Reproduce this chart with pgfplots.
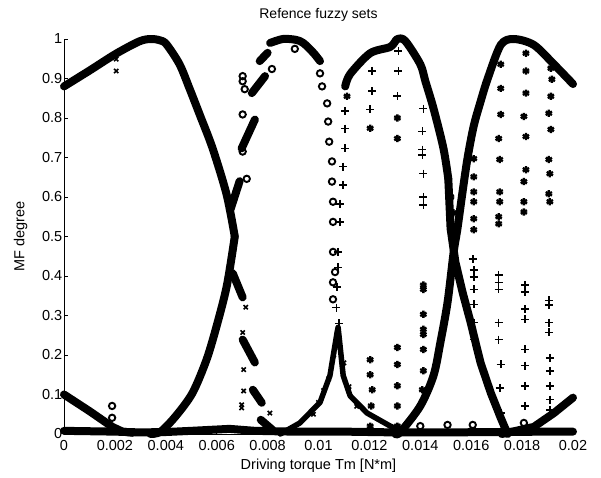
\documentclass[border=0pt]{standalone}
\usepackage{fontspec}
\setmainfont{Liberation Sans}
\usepackage{pgfplots}
\pgfplotsset{compat=1.18}
\begin{document}
\begin{tikzpicture}
\pgfplotsset{
  band/.style={black, no marks, line width=8bp, line cap=round, line join=round},
  omark/.style={black, only marks, mark=o, mark size=3.2bp, line width=1.9bp},
  pmark/.style={black, only marks, mark=+, mark size=4bp, line width=1.6bp},
  smark/.style={black, only marks, mark=asterisk, mark size=3.6bp, line width=2.3bp},
  xmark/.style={black, only marks, mark=x, mark size=3bp, line width=1.6bp},
}
\begin{axis}[
  scale only axis, width=509bp, height=395bp,
  xmin=0, xmax=0.02, ymin=0, ymax=1,
  axis x line*=bottom, axis y line*=left,
  axis line style={line width=0.9bp},
  tick align=inside, major tick length=4bp,
  tick style={line width=0.9bp, black},
  xtick={0,0.002,0.004,0.006,0.008,0.01,0.012,0.014,0.016,0.018,0.02},
  xticklabels={0,0.002,0.004,0.006,0.008,0.01,0.012,0.014,0.016,0.018,0.02},
  scaled x ticks=false,
  ytick={0,0.1,0.2,0.3,0.4,0.5,0.6,0.7,0.8,0.9,1},
  yticklabels={0,0.1,0.2,0.3,0.4,0.5,0.6,0.7,0.8,0.9,1},
  tick label style={font=\fontsize{14.5bp}{17bp}\selectfont},
  yticklabel style={inner sep=1.5bp},
  xticklabel style={yshift=-3bp},
  label style={font=\fontsize{14.5bp}{17bp}\selectfont},
  clip=false,
  title={Refence fuzzy sets},
  title style={font=\fontsize{14bp}{17bp}\selectfont, at={(axis description cs:0.5,1.046)}, anchor=center},
  xlabel={Driving torque Tm [N*m]},
  xlabel style={at={(axis description cs:0.5,-0.08)}, anchor=center},
  ylabel={MF degree},
  ylabel style={at={(axis description cs:-0.085,0.5)}, anchor=center},
]
% baseline
\addplot[band] coordinates {(0,0.008) (0.002,0.006) (0.003,0.004) (0.004,0.005) (0.005,0.008) (0.0065,0.013) (0.0075,0.008) (0.009,0.006) (0.011,0.006) (0.013,0.004) (0.015,0.004) (0.017,0.005) (0.019,0.006) (0.0200,0.006)};
% E
\addplot[band] coordinates {(0,0.1) (0.001,0.058) (0.0019,0.018) (0.0023,0.006) (0.0027,0.003)};
% A
\addplot[band, smooth] coordinates {(0,0.88) (0.001,0.92) (0.00205,0.963) (0.00296,0.994) (0.0034,1.0) (0.00375,0.997) (0.00402,0.987) (0.00454,0.936) (0.00493,0.875) (0.00533,0.809) (0.00584,0.723) (0.00639,0.606) (0.00671,0.5)};
\addplot[band] coordinates {(0.00663,0.407) (0.00702,0.346)};
\addplot[band] coordinates {(0.00702,0.239) (0.0075,0.181)};
\addplot[band] coordinates {(0.00742,0.112) (0.00777,0.079)};
\addplot[band] coordinates {(0.00773,0.036) (0.0082,0.01)};
% B
\addplot[band, smooth] coordinates {(0.0034,0.0) (0.0038,0.006) (0.0044,0.046) (0.00505,0.104) (0.0056,0.188) (0.006,0.274) (0.0064,0.376) (0.00671,0.5)};
\addplot[band] coordinates {(0.00655,0.57) (0.0069,0.64)};
\addplot[band] coordinates {(0.00698,0.723) (0.0075,0.796)};
\addplot[band] coordinates {(0.00738,0.863) (0.0079,0.906)};
\addplot[band] coordinates {(0.00769,0.944) (0.0080,0.965)};
\addplot[band, smooth] coordinates {(0.0081,0.99) (0.0086,1.0) (0.0091,0.998) (0.0094,0.99) (0.0098,0.965) (0.01006,0.944)};
% C
\addplot[band, smooth] coordinates {(0.01105,0.88) (0.01124,0.911) (0.01203,0.964) (0.01282,0.98) (0.0131,1.0) (0.01341,0.995) (0.014,0.936) (0.0142,0.893) (0.01452,0.824) (0.01491,0.723) (0.0151,0.646)};
\addplot[band] coordinates {(0.0151,0.646) (0.01519,0.52) (0.01538,0.435) (0.01566,0.359) (0.01598,0.282) (0.01617,0.232) (0.01637,0.18) (0.01677,0.104) (0.01716,0.041) (0.01743,0.0)};
% D
\addplot[band, smooth] coordinates {(0.01302,0.0) (0.01322,0.005) (0.014,0.071) (0.01452,0.148) (0.01479,0.232) (0.01507,0.333) (0.01531,0.46) (0.01546,0.52) (0.01566,0.613) (0.01586,0.7) (0.0161,0.78) (0.01637,0.842) (0.01665,0.9) (0.01716,0.985) (0.01767,1.0) (0.01846,0.985) (0.01925,0.936) (0.02,0.886)};
% G
\addplot[band] coordinates {(0.0172,0.0) (0.01846,0.018) (0.01925,0.053) (0.02,0.092)};
% H
\addplot[black, no marks, line width=5.5bp, line cap=round, line join=round] coordinates {(0.0085,0.0) (0.00927,0.028) (0.01006,0.08) (0.01045,0.148) (0.01073,0.257) (0.01077,0.27) (0.01097,0.148) (0.01124,0.097) (0.01191,0.053) (0.01282,0.02) (0.01322,0.008)};
% x marks
\addplot[xmark] coordinates {(0.00205,0.949) (0.00205,0.919) (0.00714,0.321) (0.00702,0.257) (0.00706,0.163) (0.00706,0.109) (0.00698,0.074) (0.00698,0.066) (0.00809,0.053) (0.009,0.012) (0.0098,0.05) (0.0100,0.08) (0.0102,0.11) (0.0104,0.14) (0.0106,0.2) (0.0110,0.18) (0.0112,0.12) (0.0115,0.07)};
% o marks
\addplot[omark] coordinates {(0.00189,0.071) (0.00189,0.041) (0.00702,0.906) (0.00702,0.893) (0.0071,0.873) (0.00702,0.809) (0.00702,0.715) (0.00718,0.646) (0.00817,0.924) (0.00907,0.975) (0.01006,0.913) (0.01014,0.880) (0.01034,0.837) (0.01038,0.791) (0.01042,0.740) (0.01053,0.690) (0.01053,0.639) (0.01057,0.588) (0.01057,0.537) (0.01057,0.461) (0.01065,0.410) (0.01057,0.384) (0.01057,0.341) (0.014,0.02) (0.01507,0.023) (0.01606,0.023) (0.01807,0.028)};
% + marks
\addplot[pmark] coordinates {(0.01105,0.817) (0.01105,0.773) (0.01105,0.723) (0.01097,0.677) (0.01097,0.631) (0.01085,0.583) (0.01085,0.537) (0.01077,0.461) (0.01077,0.422) (0.01073,0.372) (0.0107,0.32) (0.0108,0.28)
(0.01211,0.919) (0.01211,0.868) (0.01203,0.822)
(0.01314,0.97) (0.01314,0.919) (0.0131,0.855)
(0.01412,0.824) (0.01408,0.766) (0.01408,0.72) (0.01408,0.707) (0.01412,0.659) (0.01412,0.60) (0.01412,0.58)
(0.01606,0.443) (0.0161,0.415) (0.0161,0.397) (0.0161,0.366) (0.0161,0.328) (0.0161,0.282) (0.0161,0.239)
(0.01708,0.402) (0.01708,0.384) (0.01708,0.366) (0.01708,0.282) (0.01708,0.239) (0.01716,0.176) (0.01712,0.117) (0.01716,0.053)
(0.01811,0.377) (0.01811,0.359) (0.01811,0.316) (0.01811,0.29) (0.01811,0.214) (0.01811,0.173) (0.01811,0.122) (0.01811,0.071)
(0.01905,0.338) (0.01905,0.326) (0.01905,0.282) (0.01905,0.257) (0.01909,0.193) (0.01909,0.16) (0.01909,0.122) (0.01909,0.087) (0.01909,0.061)};
% star marks
\addplot[smark] coordinates {(0.01203,0.774) (0.0131,0.8) (0.0131,0.748) (0.01105,0.88) (0.01112,0.855)
(0.01203,0.188) (0.01203,0.15) (0.01211,0.112) (0.01207,0.071) (0.01203,0.02)
(0.0131,0.219) (0.0131,0.176) (0.0131,0.122) (0.0131,0.071) (0.0131,0.02)
(0.01412,0.377) (0.01412,0.366) (0.01412,0.303) (0.01412,0.265) (0.01412,0.252) (0.01412,0.214) (0.01412,0.16) (0.01408,0.112)
(0.0161,0.697) (0.0161,0.651) (0.0161,0.613) (0.0161,0.588) (0.0161,0.545) (0.0161,0.517)
(0.01716,0.936) (0.01716,0.875) (0.01716,0.809) (0.01708,0.748) (0.01712,0.695) (0.01712,0.613) (0.01712,0.588) (0.01708,0.55) (0.01708,0.532)
(0.01815,0.964) (0.01815,0.919) (0.01815,0.863) (0.01807,0.804) (0.01815,0.753) (0.01815,0.669) (0.01807,0.639) (0.01807,0.588) (0.01807,0.562)
(0.01913,0.926) (0.01917,0.898) (0.01913,0.855) (0.01905,0.812) (0.01913,0.771) (0.01905,0.695) (0.01909,0.659) (0.01905,0.608) (0.01909,0.588)
(0.0152,0.6) (0.0153,0.56) (0.0154,0.5)};
\end{axis}
\pgfresetboundingbox
\path ([shift={(-64bp,-44bp)}]current axis.south west) rectangle ([shift={(28bp,39bp)}]current axis.north east);
\end{tikzpicture}
\end{document}
